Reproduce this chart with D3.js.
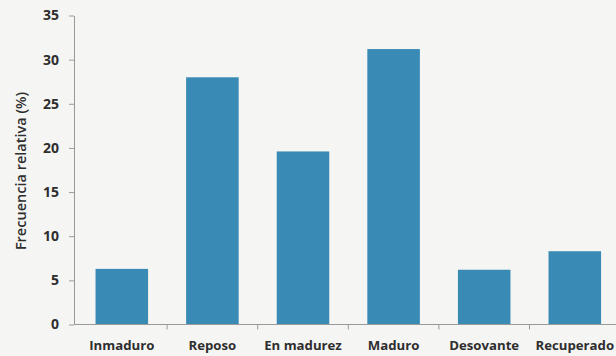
<!DOCTYPE html>
<html><head><meta charset="utf-8">
<script src="https://cdn.jsdelivr.net/npm/d3@7"></script>
<style>
html,body{margin:0;padding:0;background:#f5f5f3;}
svg{display:block;}
text{font-family:"Open Sans","Noto Sans",sans-serif;fill:#2e2e2e;}
</style></head>
<body>
<svg id="chart" width="616" height="356"></svg>
<script>
const categories = ["Inmaduro","Reposo","En madurez","Maduro","Desovante","Recuperado"];
const values = [6.3, 28.0, 19.6, 31.2, 6.2, 8.3];
const yTicks = [0,5,10,15,20,25,30,35];
const yTitle = "Frecuencia relativa (%)";

const svg = d3.select("#chart");
const W = 616, H = 356;
const axisX = 74;
const x = d3.scaleBand().domain(categories).range([76.5, 620.1]).paddingInner(0.42).paddingOuter(0.21);
const y = d3.scaleLinear().domain([0,35]).range([324.5, 15.5]);

svg.append("rect").attr("width",W).attr("height",H).attr("fill","#f5f5f3");

svg.selectAll("rect.bar").data(values).join("rect").attr("class","bar")
  .attr("x",(d,i)=>x(categories[i])).attr("width",x.bandwidth())
  .attr("y",d=>y(d)).attr("height",d=>y(0)-y(d))
  .attr("fill","#3a8ab6");

// y axis
const yAxis = svg.append("g").attr("transform",`translate(${axisX},0)`)
  .call(d3.axisLeft(y).tickValues(yTicks).tickSize(5).tickSizeOuter(0).tickPadding(10));
yAxis.select(".domain").attr("stroke","#9a9a9a");
yAxis.selectAll(".tick line").attr("stroke","#9a9a9a");
yAxis.selectAll("text").attr("font-size","14px").attr("font-weight","700").attr("fill","#2e2e2e");

// x axis baseline with boundary ticks
const x0 = y(0);
const step = x.step();
const bounds = d3.range(1, categories.length+1).map(i=>x.range()[0] + i*step);
svg.append("line").attr("x1",axisX).attr("x2",W).attr("y1",x0).attr("y2",x0).attr("stroke","#9a9a9a");
svg.selectAll("line.xt").data(bounds).join("line").attr("class","xt")
  .attr("x1",d=>d).attr("x2",d=>d).attr("y1",x0).attr("y2",x0+5).attr("stroke","#9a9a9a");
svg.selectAll("text.xl").data(categories).join("text").attr("class","xl")
  .attr("x",d=>x(d)+x.bandwidth()/2).attr("y",350)
  .attr("text-anchor","middle").attr("font-size","13.2px").attr("font-weight","700")
  .text(d=>d);

svg.append("text").attr("transform",`translate(26,171) rotate(-90)`)
  .attr("text-anchor","middle").attr("font-size","14.5px").attr("font-weight","600").text(yTitle);
</script>
</body></html>
